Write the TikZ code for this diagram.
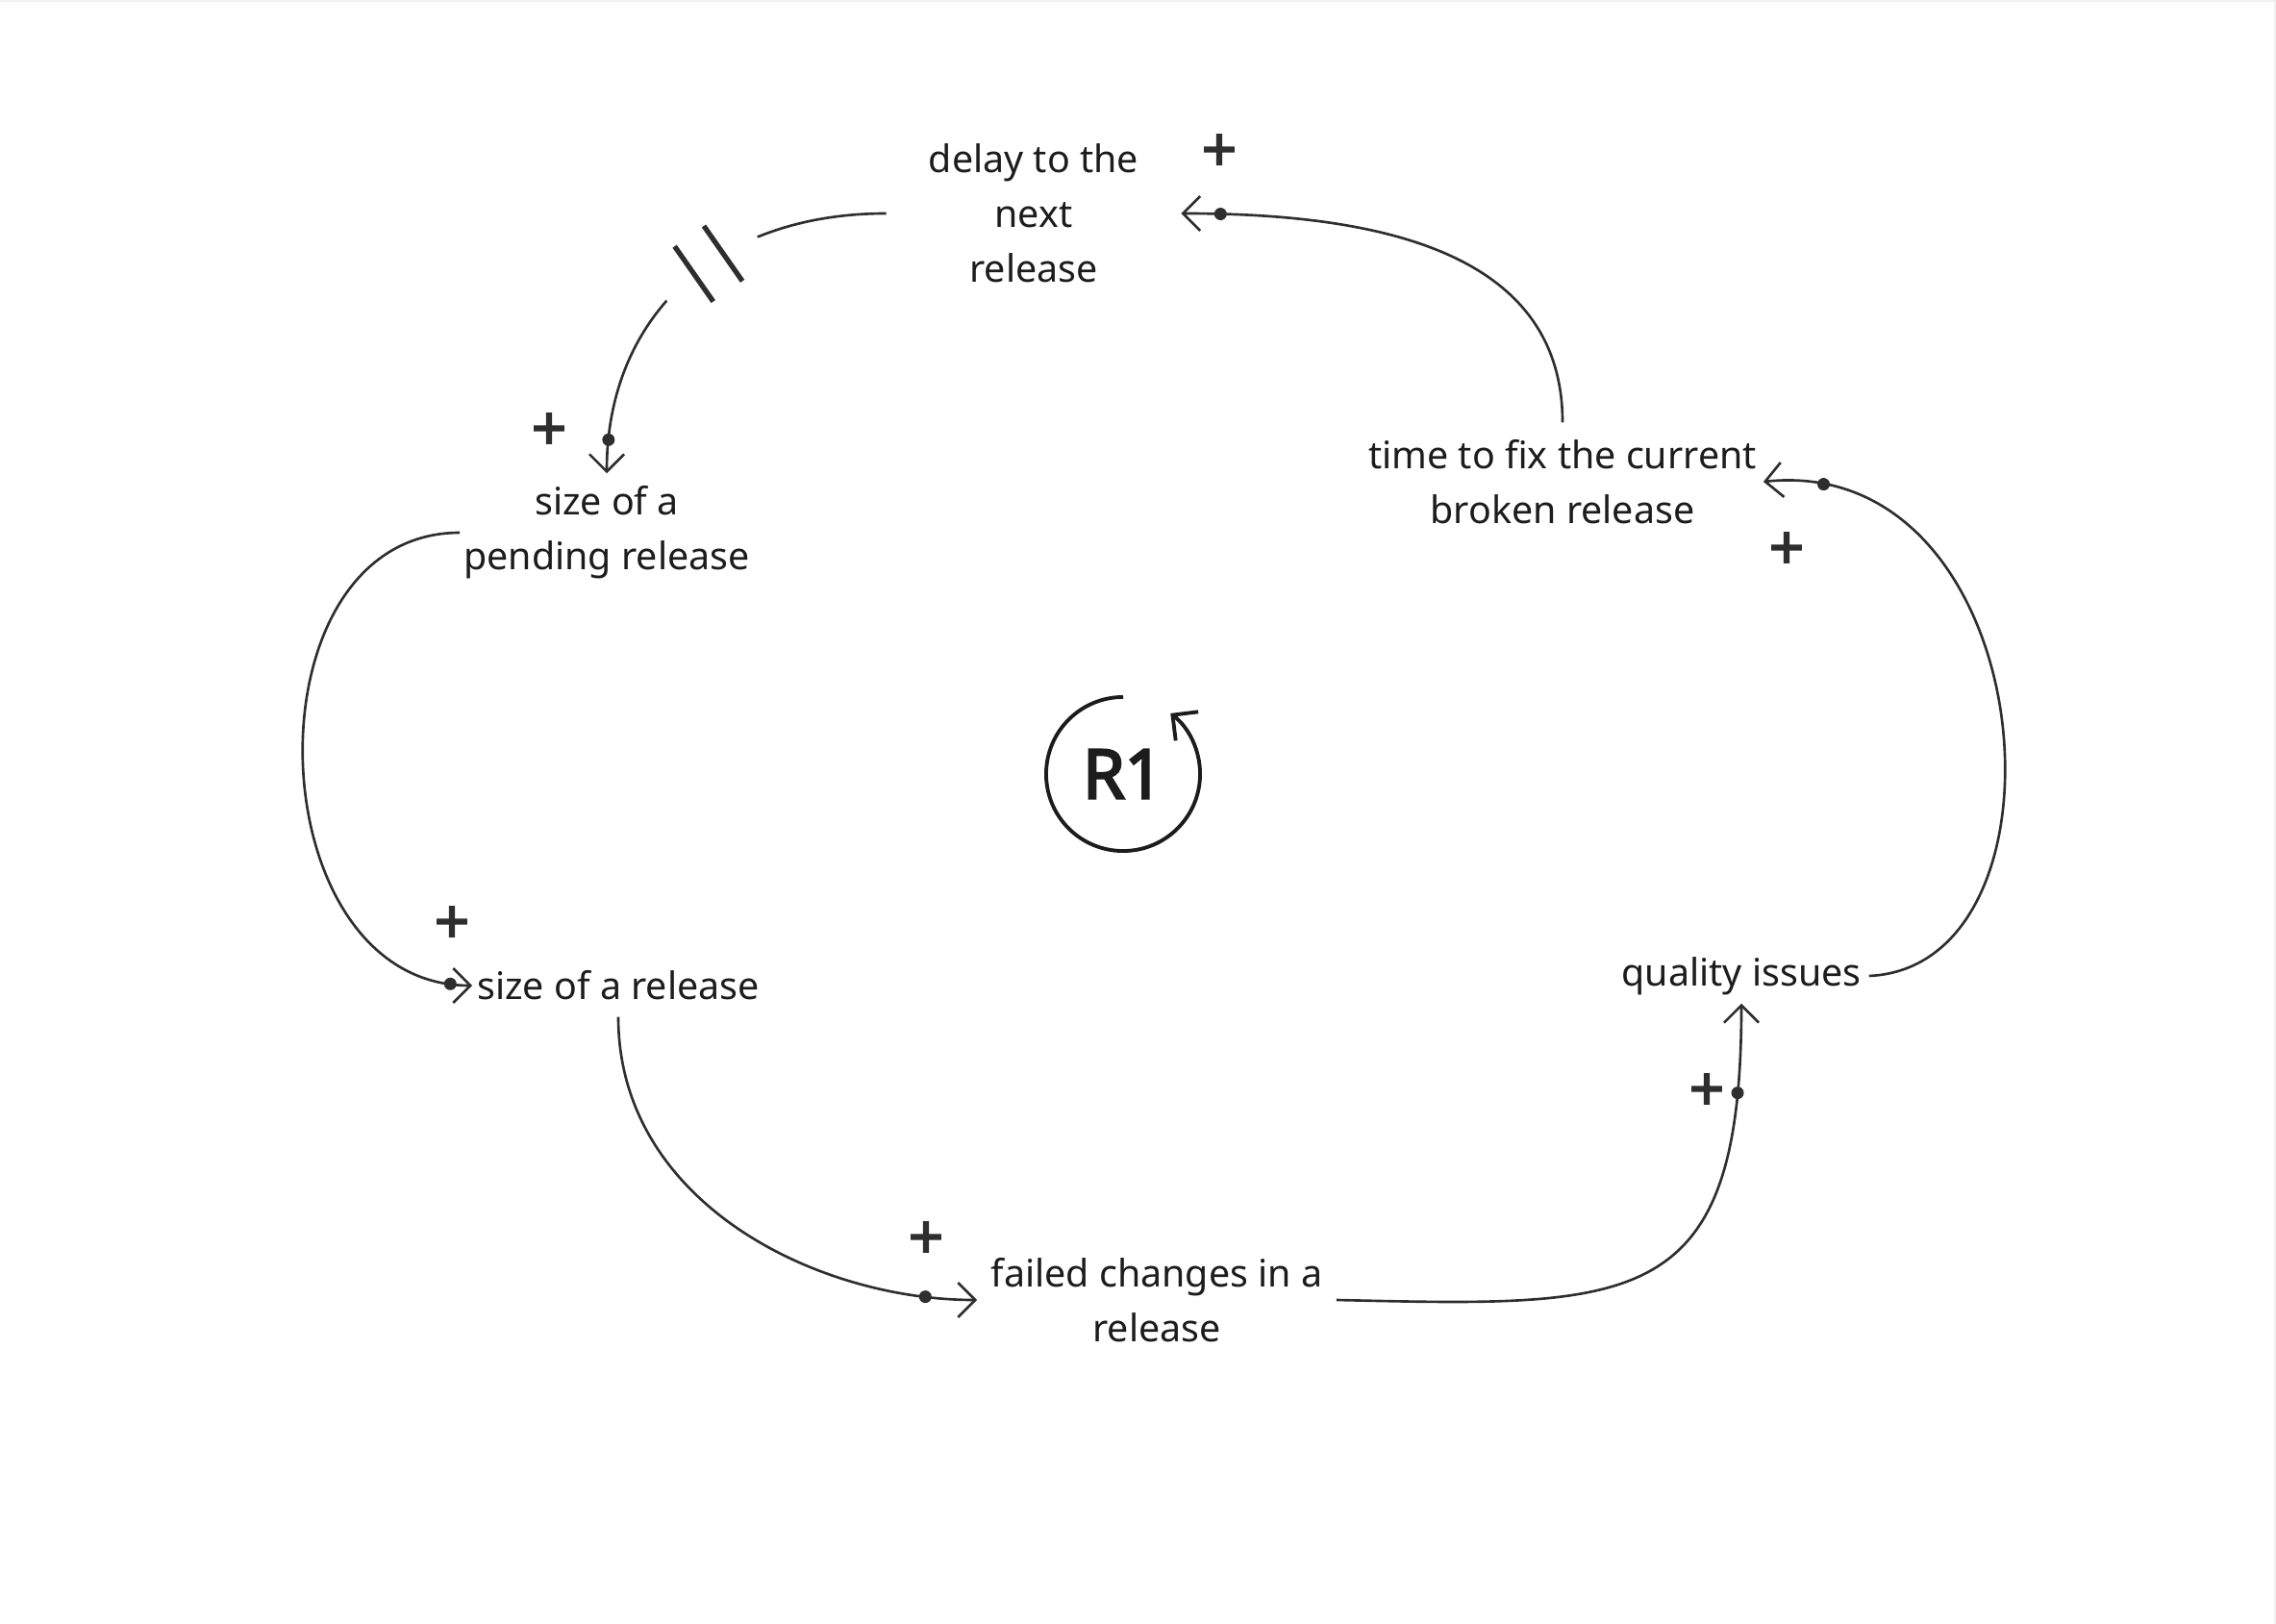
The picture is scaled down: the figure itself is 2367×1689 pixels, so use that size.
\documentclass[tikz,border=0pt]{standalone}
\usepackage{fontspec}
\setmainfont{Noto Sans}
\newfontfamily\rfont{Open Sans}[AutoFakeBold=3]
\newfontfamily\heavyfont{Open Sans}[FakeBold=4]
\usetikzlibrary{arrows.meta,decorations.markings}
\definecolor{ink}{HTML}{1C1C1C}
\definecolor{wire}{HTML}{2E2E2E}
\begin{document}
\begin{tikzpicture}[x=0.01cm,y=-0.01cm,
  var/.style={inner sep=0pt, align=center, text=ink, font=\fontsize{11.2}{16.2}\selectfont},
  plus/.style={inner sep=0pt, text=wire, font=\rfont\bfseries\fontsize{18}{18}\selectfont},
  link/.style={draw=wire, line width=0.75pt, -{Straight Barb[length=0.18cm,width=0.36cm]}},
  dotat/.style={postaction={decorate, decoration={markings, mark=at position #1 with {\fill[wire] (0,0) circle (0.065cm);}}}},
  delaymark/.style={postaction={decorate, decoration={markings, mark=at position #1 with {%
      \fill[white] (-0.575cm,-0.45cm) rectangle (0.575cm,0.45cm);
      \draw[wire, arrows=-, line width=1.5pt] (-0.185cm,-0.35cm) -- (-0.185cm,0.35cm);
      \draw[wire, arrows=-, line width=1.5pt] (0.185cm,-0.35cm) -- (0.185cm,0.35cm);}}}},
]
\useasboundingbox (0,0) rectangle (2367,1689);
\draw[gray!12, line width=0.6pt] (0,1) -- (2366,1) -- (2366,1689);

% variables
\node[var, minimum width=3.05cm] (delay) at (1075,222) {delay to the\\next\\release};
\node[var, minimum width=3.04cm, minimum height=1.22cm] (pend) at (631,554) {size of a\\pending release};
\node[var, minimum width=3.02cm, minimum height=0.64cm] (sor) at (643,1025) {size of a release};
\node[var, minimum width=3.72cm] (failed) at (1203,1352) {failed changes in a\\release};
\node[var, minimum width=2.64cm, minimum height=0.56cm] (qual) at (1811,1015) {quality issues};
\node[var, minimum width=4.16cm, minimum height=1.22cm] (time) at (1625,501) {time to fix the current\\broken release};

% polarity signs
\node[plus] (p1) at (1268,159) {+};
\node[plus] (p2) at (571,449) {+};
\node[plus] (p3) at (470,962) {+};
\node[plus] (p4) at (963,1290) {+};
\node[plus] (p5) at (1775,1136) {+};
\node[plus] (p6) at (1858,573) {+};

% links
\draw[link, dotat=-0.35cm, delaymark=1.95cm] (delay.west) .. controls +(-180,0) and +(0,-160) .. (pend.north);
\draw[link, dotat=-0.23cm] (pend.west) .. controls +(-226,0) and +(-226,0) .. (sor.west);
\draw[link, dotat=-0.54cm] (sor.south) .. controls +(0,193) and +(-167,0) .. (failed.west);
\draw[link, dotat=-0.93cm] (failed.east) .. controls +(311,7) and +(0,321) .. (qual.south);
\draw[link, dotat=-0.63cm] (qual.east) .. controls +(222,-10) and +(290,-30) .. (time.east);
\draw[link, dotat=-0.41cm] (time.north) .. controls +(0,-180) and +(200,0) .. (delay.east);

% loop marker
\node[inner sep=0pt, text=ink, font=\heavyfont\fontsize{20}{20}\selectfont, circle, minimum size=1.6cm] (r1) at (1168,805) {R1};
\begin{scope}[shift={(r1.center)}, x=1cm, y=1cm]
\draw[ink, line width=1.1pt, -{Straight Barb[length=0.19cm,width=0.38cm]}] (90:0.8) arc[start angle=90, end angle=412, radius=0.8];
\end{scope}
\end{tikzpicture}
\end{document}
